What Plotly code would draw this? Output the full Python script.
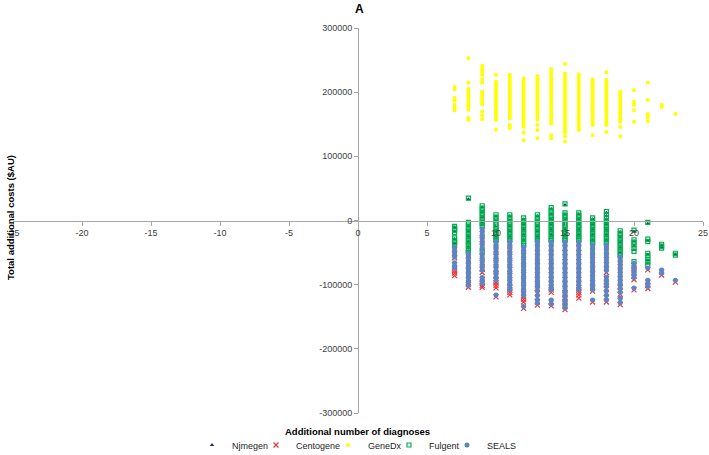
import plotly.graph_objects as go

# ---------------- data ($AU) ----------------
series_names = ["Njmegen", "Centogene", "GeneDx", "Fulgent", "SEALS"]

x_ticks = [-25, -20, -15, -10, -5, 0, 5, 10, 15, 20, 25]
y_ticks = [-300000, -200000, -100000, 0, 100000, 200000, 300000]

njmegen = {
    7: [-11000, -17000, -29000, -36000],
    8: [33000, -9000, -17000, -25000, -33000, -41000, -48000],
    9: [21000, 13000, 5000, -3000, -51000],
    10: [7000, -1000, -9000, -17000, -25000],
    11: [7000, -1000, -9000, -17000, -25000],
    12: [2000, -6000, -14000, -22000, -30000],
    13: [7000, -1000, -9000, -17000, -25000],
    14: [18000, 10000, 2000, -6000, -14000, -22000],
    15: [24000, 10000, 2000, -6000, -14000, -22000],
    16: [10000, 2000, -6000, -14000, -22000],
    17: [2000, -6000, -14000, -22000, -30000],
    18: [12000, 7000, 2000, -6000, -14000, -22000, -30000],
    19: [-18000, -26000, -34000, -42000, -50000],
    20: [-17000, -32000, -40000, -46000, -66000],
    21: [-5000, -31000, -53000, -62000, -67000],
    22: [-39000, -42000],
    23: [-53000],
}

centogene = {
    7: [-45000, -52000, -58000, -69000, -74000, -78000, -82000, -86000],
    8: [-54000, -62000, -70000, -78000, -86000, -93000, -97000, -100000, -104000],
    9: [-20000, -30000, -40000, -56000, -66000, -76000, -81000, -92000, -96000, -101000, -104000],
    10: [-36000, -46000, -56000, -66000, -76000, -86000, -93000, -97000, -101000, -105000, -119000],
    11: [-36000, -46000, -56000, -66000, -76000, -86000, -96000, -104000, -108000, -112000, -116000],
    12: [-44000, -54000, -64000, -74000, -84000, -94000, -104000, -114000, -119000, -123000, -127000, -137000],
    13: [-36000, -50000, -64000, -78000, -92000, -102000, -106000, -113000, -120000, -127000, -132000],
    14: [-36000, -50000, -64000, -78000, -92000, -104000, -108000, -112000, -127000, -133000],
    15: [-36000, -50000, -64000, -78000, -92000, -106000, -113000, -116000, -121000, -126000, -130000, -134000, -139000],
    16: [-36000, -50000, -64000, -78000, -92000, -104000, -108000, -112000, -116000, -121000],
    17: [-41000, -55000, -69000, -83000, -97000, -105000, -110000, -127000],
    18: [-41000, -55000, -69000, -81000, -91000, -96000, -101000, -106000, -113000, -120000, -127000],
    19: [-60000, -72000, -84000, -96000, -104000, -109000, -115000, -124000, -131000],
    20: [-70000, -74000, -78000, -82000, -87000, -92000, -108000],
    21: [-77000, -96000, -101000, -106000],
    22: [-80000, -85000],
    23: [-96000],
}

genedx = {
    7: [208000, 204000, 191000, 187000, 180000, 176000, 172000],
    8: [253000, 215000, 205000, 201000, 197000, 193000, 189000, 185000, 181000, 177000, 173000, 160000, 157000],
    9: [241000, 236000, 232000, 227000, 220000, 215000, 201000, 197000, 193000, 189000, 185000, 181000, 170000, 164000, 158000],
    10: [227000, 216000, 212000, 208000, 204000, 200000, 196000, 192000, 188000, 184000, 180000, 176000, 172000, 168000, 164000, 160000, 157000, 142000],
    11: [227000, 223000, 219000, 215000, 211000, 207000, 203000, 199000, 195000, 191000, 187000, 183000, 179000, 175000, 171000, 167000, 163000, 159000, 149000, 144000],
    12: [221000, 217000, 213000, 209000, 205000, 201000, 197000, 193000, 189000, 185000, 181000, 177000, 173000, 169000, 165000, 161000, 157000, 153000, 149000, 146000, 137000, 125000],
    13: [225000, 221000, 217000, 213000, 209000, 205000, 201000, 197000, 193000, 189000, 185000, 181000, 177000, 173000, 169000, 165000, 161000, 157000, 149000, 141000, 128000],
    14: [236000, 231000, 227000, 223000, 219000, 215000, 211000, 207000, 203000, 199000, 195000, 191000, 187000, 183000, 179000, 175000, 171000, 167000, 163000, 159000, 155000, 151000, 133000, 128000],
    15: [244000, 229000, 225000, 221000, 217000, 213000, 209000, 205000, 201000, 197000, 193000, 189000, 185000, 181000, 177000, 173000, 169000, 165000, 161000, 157000, 153000, 149000, 145000, 141000, 137000, 131000, 123000],
    16: [228000, 224000, 220000, 216000, 212000, 208000, 204000, 200000, 196000, 192000, 188000, 184000, 180000, 176000, 172000, 168000, 164000, 160000, 156000, 152000, 148000, 144000, 141000],
    17: [220000, 216000, 212000, 208000, 204000, 200000, 196000, 192000, 188000, 184000, 180000, 176000, 172000, 168000, 164000, 160000, 156000, 152000, 149000, 133000],
    18: [231000, 219000, 215000, 211000, 207000, 203000, 199000, 195000, 191000, 187000, 183000, 179000, 175000, 171000, 167000, 163000, 159000, 155000, 151000, 149000, 138000],
    19: [201000, 197000, 193000, 189000, 185000, 181000, 177000, 173000, 169000, 165000, 161000, 157000, 154000, 146000, 131000],
    20: [203000, 185000, 180000, 172000, 154000],
    21: [215000, 188000, 166000, 161000, 155000],
    22: [180000, 177000],
    23: [166000],
}

fulgent = {
    7: [-9000, -12000, -15000, -19000, -27000, -31000, -35000, -38000],
    8: [35000, -3000, -7000, -11000, -15000, -19000, -23000, -27000, -31000, -35000, -39000, -43000, -47000, -50000],
    9: [23000, 19000, 15000, 11000, 7000, 3000, -1000, -5000, -9000, -49000],
    10: [9000, 5000, 1000, -3000, -7000, -11000, -15000, -19000, -23000, -27000, -31000],
    11: [9000, 5000, 1000, -3000, -7000, -11000, -15000, -19000, -23000, -27000, -31000],
    12: [4000, 0, -4000, -8000, -12000, -16000, -20000, -24000, -28000, -32000, -36000, -39000],
    13: [9000, 5000, 1000, -3000, -7000, -11000, -15000, -19000, -23000, -27000, -31000],
    14: [20000, 16000, 12000, 8000, 4000, 0, -4000, -8000, -12000, -16000, -20000, -24000, -28000, -31000],
    15: [26000, 12000, 8000, 4000, 0, -4000, -8000, -12000, -16000, -20000, -24000, -28000, -31000],
    16: [12000, 8000, 4000, 0, -4000, -8000, -12000, -16000, -20000, -24000, -28000, -31000],
    17: [4000, 0, -4000, -8000, -12000, -16000, -20000, -24000, -28000, -32000, -36000],
    18: [14000, 9000, 4000, 0, -4000, -8000, -12000, -16000, -20000, -24000, -28000, -32000, -36000],
    19: [-16000, -20000, -24000, -28000, -32000, -36000, -40000, -44000, -48000, -52000, -55000],
    20: [-15000, -30000, -34000, -38000, -43000, -48000, -64000],
    21: [-3000, -29000, -33000, -51000, -55000, -60000, -64000, -69000],
    22: [-37000, -40000, -43000],
    23: [-51000, -54000],
}

seals = {
    7: [-42000, -45000, -49000, -53000, -57000, -66000, -70000, -74000],
    8: [-51000, -55000, -59000, -63000, -67000, -71000, -75000, -79000, -83000, -87000, -90000, -96000, -101000],
    9: [-13000, -17000, -21000, -25000, -29000, -33000, -37000, -41000, -45000, -53000, -57000, -61000, -65000, -69000, -73000, -77000, -89000, -93000, -98000],
    10: [-33000, -37000, -41000, -45000, -49000, -53000, -57000, -61000, -65000, -69000, -73000, -77000, -81000, -85000, -89000, -93000, -116000],
    11: [-33000, -37000, -41000, -45000, -49000, -53000, -57000, -61000, -65000, -69000, -73000, -77000, -81000, -85000, -89000, -93000, -97000, -101000, -105000, -108000],
    12: [-41000, -45000, -49000, -53000, -57000, -61000, -65000, -69000, -73000, -77000, -81000, -85000, -89000, -93000, -97000, -101000, -105000, -109000, -113000, -117000, -134000],
    13: [-33000, -37000, -41000, -45000, -49000, -53000, -57000, -61000, -65000, -69000, -73000, -77000, -81000, -85000, -89000, -93000, -97000, -101000, -103000, -110000, -117000, -124000, -129000],
    14: [-33000, -37000, -41000, -45000, -49000, -53000, -57000, -61000, -65000, -69000, -73000, -77000, -81000, -85000, -89000, -93000, -97000, -101000, -105000, -108000, -124000, -130000],
    15: [-33000, -37000, -41000, -45000, -49000, -53000, -57000, -61000, -65000, -69000, -73000, -77000, -81000, -85000, -89000, -93000, -97000, -101000, -105000, -109000, -113000, -118000, -123000, -127000, -131000, -136000],
    16: [-33000, -37000, -41000, -45000, -49000, -53000, -57000, -61000, -65000, -69000, -73000, -77000, -81000, -85000, -89000, -93000, -97000, -101000, -105000, -108000],
    17: [-38000, -42000, -46000, -50000, -54000, -58000, -62000, -66000, -70000, -74000, -78000, -82000, -86000, -90000, -94000, -98000, -102000, -105000, -108000, -124000],
    18: [-38000, -42000, -46000, -50000, -54000, -58000, -62000, -66000, -70000, -74000, -78000, -88000, -93000, -98000, -103000, -110000, -117000, -124000],
    19: [-57000, -61000, -65000, -69000, -73000, -77000, -81000, -85000, -89000, -93000, -97000, -101000, -106000, -112000, -121000, -128000],
    20: [-67000, -71000, -75000, -79000, -84000, -89000, -105000],
    21: [-74000, -93000, -98000, -103000],
    22: [-77000, -82000],
    23: [-93000],
}

series_data = [njmegen, centogene, genedx, fulgent, seals]
series_colors = ["#1f2d5c", "#e8343a", "#ffff00", "#00b050", "#5b86c3"]
series_symbols = ["triangle-up", "x-thin-open", "square", "square-open", "circle"]
series_sizes = [4, 5, 3.5, 4, 5]
series_linew = [0, 1.2, 0, 1.2, 0]

# ---------------- figure ----------------
W, H = 709, 455
fig = go.Figure()

# left edges (px) of the five single-entry legends, centred under the plot
legend_left_px = [192, 256, 328, 389, 447]

for i, (name, d) in enumerate(zip(series_names, series_data)):
    xs, ys = [], []
    for xv, vals in d.items():
        for v in vals:
            xs.append(xv)
            ys.append(v)
    fig.add_trace(go.Scatter(
        x=xs, y=ys, mode="markers", name=name,
        legend="legend" if i == 0 else f"legend{i+1}",
        marker=dict(symbol=series_symbols[i], size=series_sizes[i],
                    color=series_colors[i],
                    line=dict(width=series_linew[i], color=series_colors[i])),
        showlegend=True,
    ))

legend_common = dict(orientation="h", xref="container", yref="container",
                     xanchor="left", yanchor="middle", y=1 - 445 / H,
                     bgcolor="rgba(0,0,0,0)",
                     font=dict(family="Liberation Sans, Arial, sans-serif", size=9, color="#262626"))
legend_layout = {}
for i in range(5):
    key = "legend" if i == 0 else f"legend{i+1}"
    legend_layout[key] = dict(legend_common, x=legend_left_px[i] / W)

axis_font = dict(family="Liberation Sans, Arial, sans-serif", size=9, color="#404040")

fig.update_layout(
    width=W, height=H,
    margin=dict(l=13, r=6, t=28, b=42, autoexpand=False),
    paper_bgcolor="white", plot_bgcolor="white",
    xaxis=dict(range=[-25, 25], tickvals=x_ticks, ticktext=[str(t) for t in x_ticks],
               anchor="free", position=0.5, showline=True, linecolor="#a6a6a6",
               linewidth=1, ticks="outside", ticklen=4, tickcolor="#a6a6a6",
               showgrid=False, zeroline=False, tickfont=axis_font, automargin=False),
    yaxis=dict(range=[-300000, 300000], tickvals=y_ticks, ticktext=[str(t) for t in y_ticks],
               anchor="free", position=0.5, showline=True, linecolor="#a6a6a6",
               linewidth=1, ticks="outside", ticklen=4, tickcolor="#a6a6a6",
               showgrid=False, zeroline=False, tickfont=axis_font, automargin=False),
    annotations=[
        dict(text="<b>A</b>", xref="paper", yref="paper", x=(360 - 13) / 690, y=(413 - 9) / 385,
             showarrow=False, font=dict(family="Liberation Sans, Arial, sans-serif", size=12, color="#000000"),
             xanchor="center", yanchor="middle"),
        dict(text="<b>Additional number of diagnoses</b>", xref="paper", yref="paper",
             x=(357 - 13) / 690, y=(413 - 432) / 385, showarrow=False,
             font=dict(family="Liberation Sans, Arial, sans-serif", size=9.5, color="#000000"),
             xanchor="center", yanchor="middle"),
        dict(text="<b>Total additional costs ($AU)</b>", xref="paper", yref="paper",
             x=(10 - 13) / 690, y=(413 - 218) / 385, showarrow=False, textangle=-90,
             font=dict(family="Liberation Sans, Arial, sans-serif", size=9.5, color="#000000"),
             xanchor="center", yanchor="middle"),
    ],
    **legend_layout,
)

fig.write_html("out.html", config={"displayModeBar": False},
               post_script="document.body.style.margin='0';document.body.style.padding='0';")
